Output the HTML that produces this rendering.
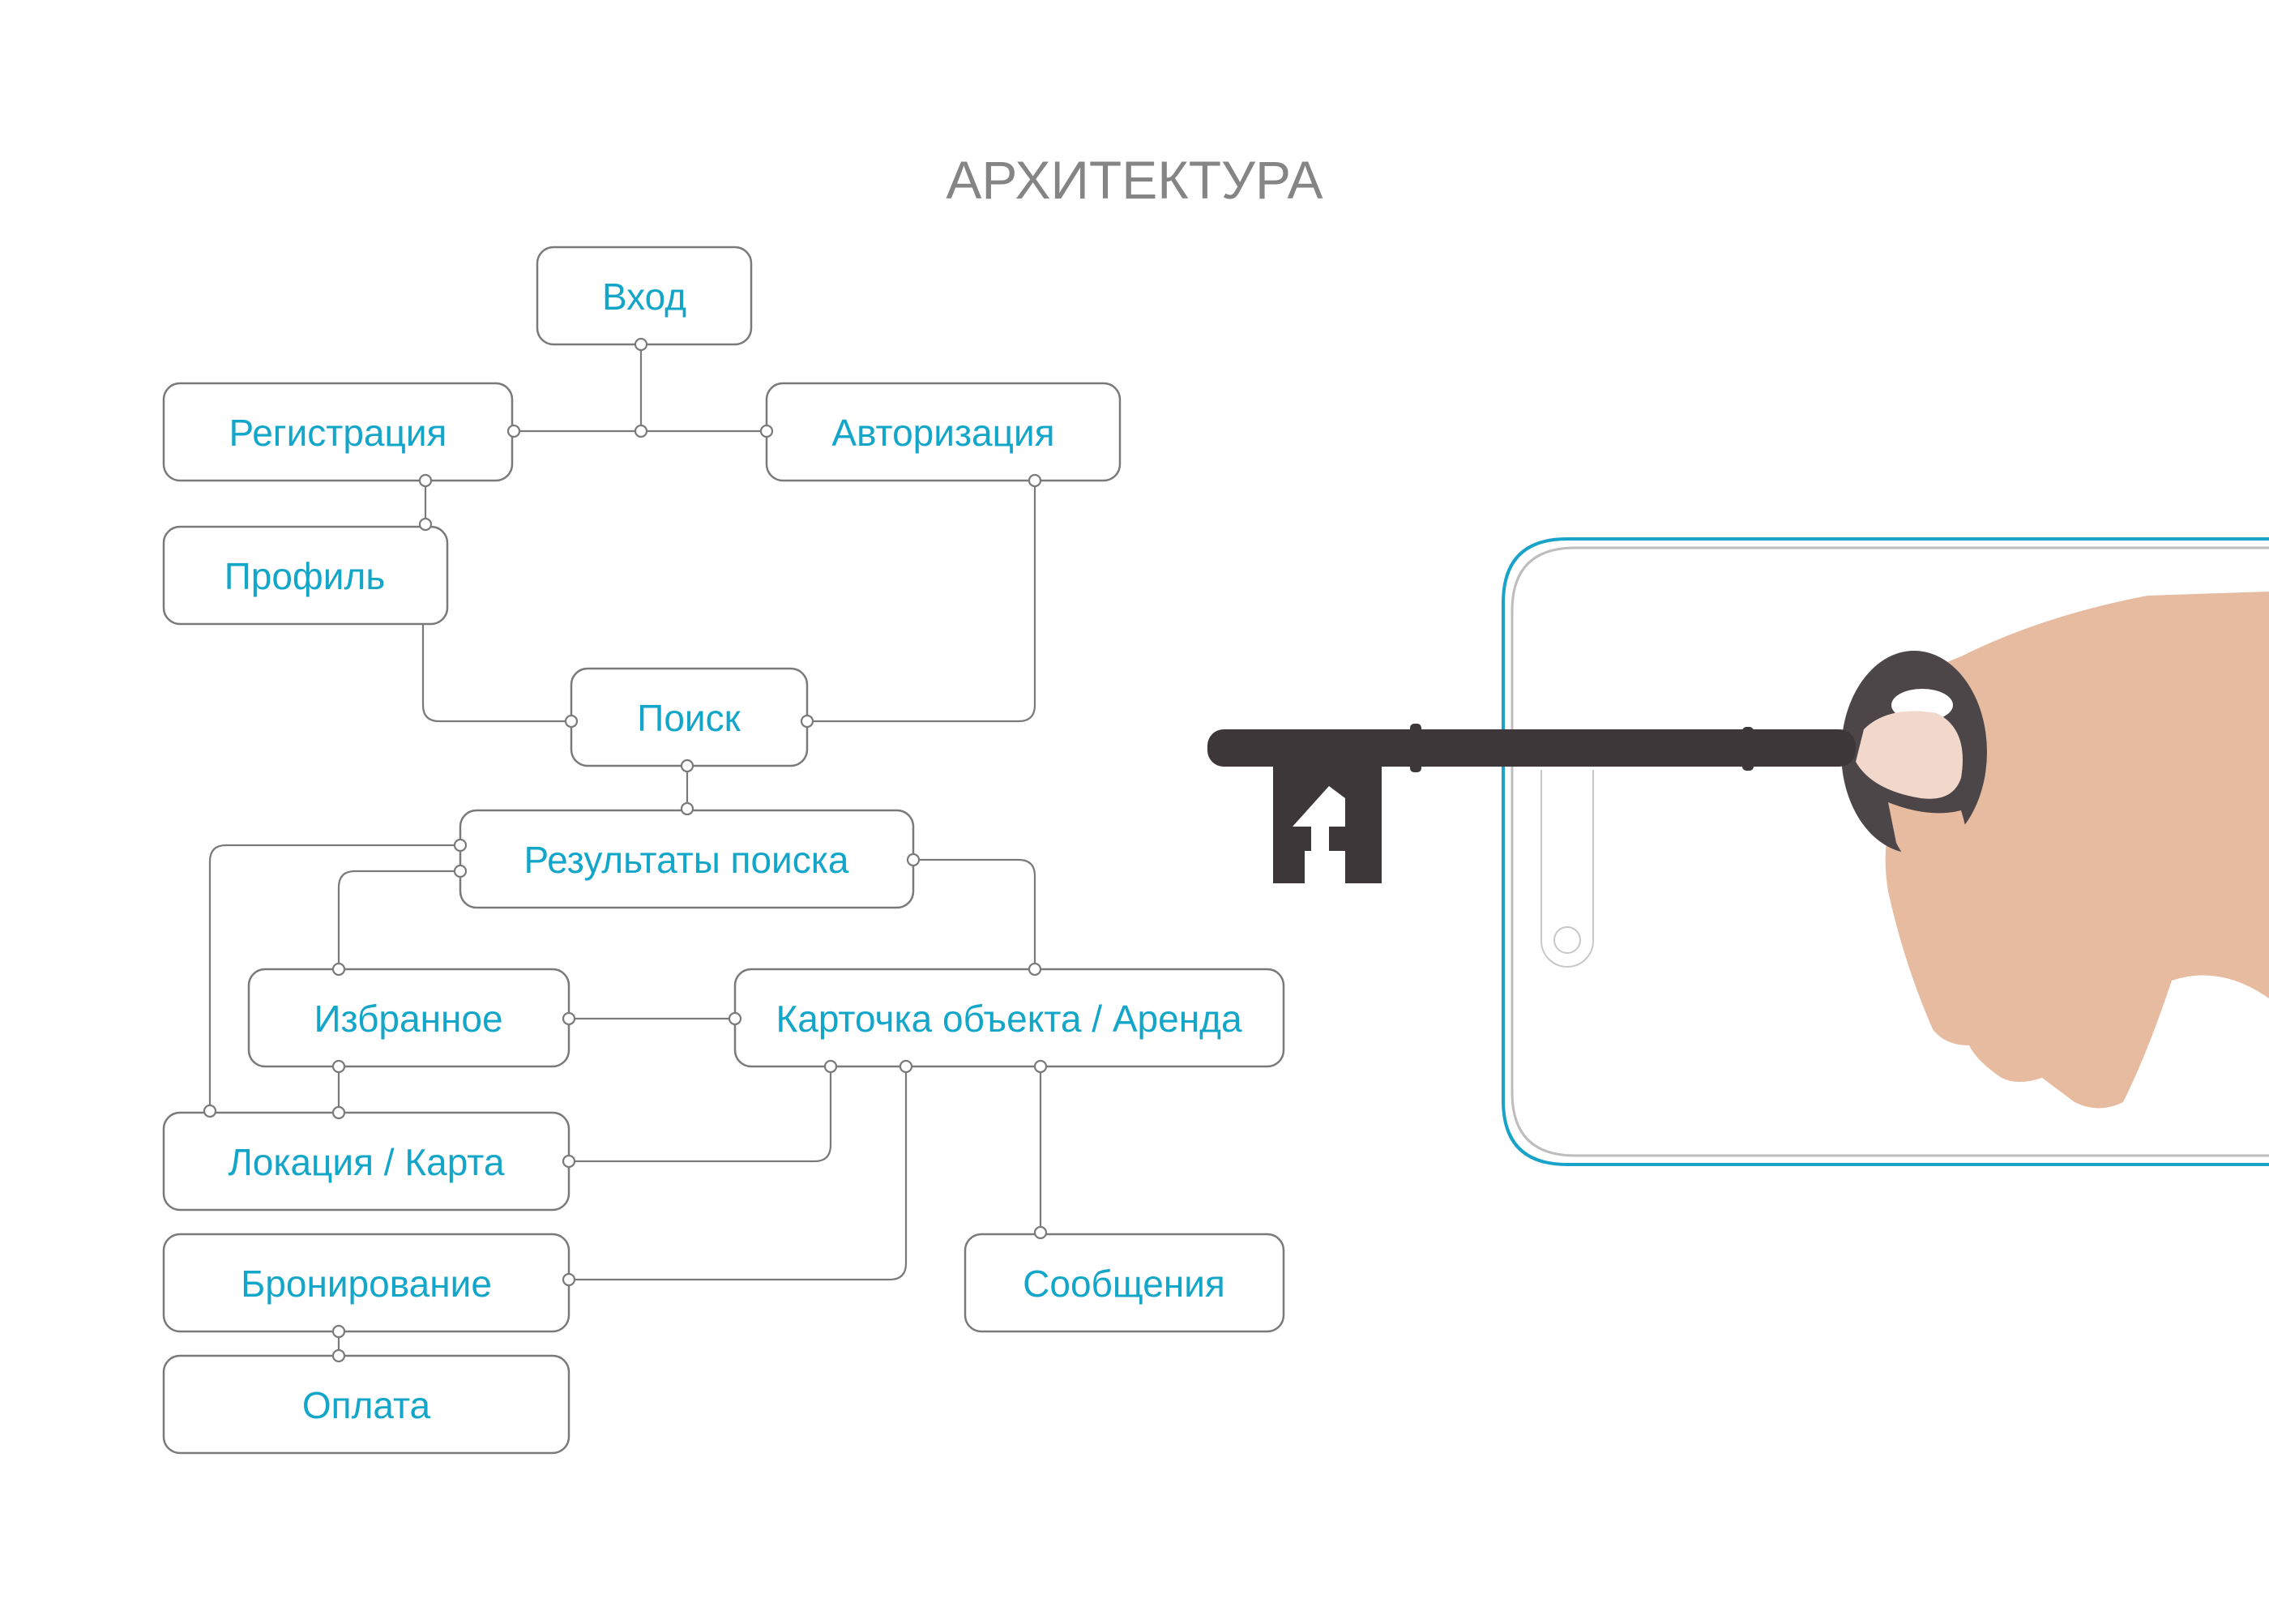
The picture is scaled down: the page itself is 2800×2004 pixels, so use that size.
<!DOCTYPE html>
<html><head><meta charset="utf-8"><style>
html,body{margin:0;padding:0;background:#fff;}
svg{display:block;}
.b{fill:#fff;stroke:#7a7a7a;stroke-width:2.5;}
.l{fill:none;stroke:#7a7a7a;stroke-width:2.2;}
.c{fill:#fff;stroke:#7a7a7a;stroke-width:2.2;}
.t{font-family:"Liberation Sans",sans-serif;font-size:46px;fill:#13a6c9;text-anchor:middle;}
</style></head><body>
<svg width="2800" height="2004" viewBox="0 0 2800 2004" xmlns="http://www.w3.org/2000/svg">
<text x="1400" y="245" font-family="Liberation Sans, sans-serif" font-size="66" fill="#858585" text-anchor="middle">АРХИТЕКТУРА</text>

<path class="l" d="M791 425V532M634 532H946"/>
<path class="l" d="M525 593V647"/>
<path class="l" d="M522 770V870Q522 890 542 890H705"/>
<path class="l" d="M1277 593V870Q1277 890 1257 890H996"/>
<path class="l" d="M848 945V998"/>
<path class="l" d="M568 1043H279Q259 1043 259 1063V1371"/>
<path class="l" d="M568 1075H438Q418 1075 418 1095V1196"/>
<path class="l" d="M1127 1061H1257Q1277 1061 1277 1081V1196"/>
<path class="l" d="M702 1257H907"/>
<path class="l" d="M418 1316V1373"/>
<path class="l" d="M1025 1316V1413Q1025 1433 1005 1433H702"/>
<path class="l" d="M1118 1316V1559Q1118 1579 1098 1579H702"/>
<path class="l" d="M1284 1316V1521"/>
<path class="l" d="M418 1643V1673"/>

<rect class="b" x="663" y="305" width="264" height="120" rx="20"/>
<rect class="b" x="202" y="473" width="430" height="120" rx="20"/>
<rect class="b" x="946" y="473" width="436" height="120" rx="20"/>
<rect class="b" x="202" y="650" width="350" height="120" rx="20"/>
<rect class="b" x="705" y="825" width="291" height="120" rx="20"/>
<rect class="b" x="568" y="1000" width="559" height="120" rx="20"/>
<rect class="b" x="307" y="1196" width="395" height="120" rx="20"/>
<rect class="b" x="907" y="1196" width="677" height="120" rx="20"/>
<rect class="b" x="202" y="1373" width="500" height="120" rx="20"/>
<rect class="b" x="202" y="1523" width="500" height="120" rx="20"/>
<rect class="b" x="1191" y="1523" width="393" height="120" rx="20"/>
<rect class="b" x="202" y="1673" width="500" height="120" rx="20"/>

<g class="c">
<circle cx="791" cy="425" r="7"/><circle cx="791" cy="532" r="7"/><circle cx="634" cy="532" r="7"/><circle cx="946" cy="532" r="7"/>
<circle cx="525" cy="593" r="7"/><circle cx="525" cy="647" r="7"/>
<circle cx="705" cy="890" r="7"/><circle cx="1277" cy="593" r="7"/><circle cx="996" cy="890" r="7"/>
<circle cx="848" cy="945" r="7"/><circle cx="848" cy="998" r="7"/>
<circle cx="568" cy="1043" r="7"/><circle cx="259" cy="1371" r="7"/>
<circle cx="568" cy="1075" r="7"/><circle cx="418" cy="1196" r="7"/>
<circle cx="1127" cy="1061" r="7"/><circle cx="1277" cy="1196" r="7"/>
<circle cx="702" cy="1257" r="7"/><circle cx="907" cy="1257" r="7"/>
<circle cx="418" cy="1316" r="7"/><circle cx="418" cy="1373" r="7"/>
<circle cx="1025" cy="1316" r="7"/><circle cx="702" cy="1433" r="7"/>
<circle cx="1118" cy="1316" r="7"/><circle cx="702" cy="1579" r="7"/>
<circle cx="1284" cy="1316" r="7"/><circle cx="1284" cy="1521" r="7"/>
<circle cx="418" cy="1643" r="7"/><circle cx="418" cy="1673" r="7"/>
</g>

<text class="t" x="795" y="382">Вход</text>
<text class="t" x="417" y="550">Регистрация</text>
<text class="t" x="1164" y="550">Авторизация</text>
<text class="t" x="376" y="727">Профиль</text>
<text class="t" x="850" y="902">Поиск</text>
<text class="t" x="847" y="1077">Результаты поиска</text>
<text class="t" x="504" y="1273">Избранное</text>
<text class="t" x="1245" y="1273">Карточка объекта / Аренда</text>
<text class="t" x="452" y="1450">Локация / Карта</text>
<text class="t" x="452" y="1600">Бронирование</text>
<text class="t" x="1387" y="1600">Сообщения</text>
<text class="t" x="452" y="1750">Оплата</text>

<path d="M2820 665H1934Q1855 665 1855 744V1358Q1855 1437 1934 1437H2820" fill="none" stroke="#1aa3c8" stroke-width="4"/>
<path d="M2820 676H1944Q1866 676 1866 754V1348Q1866 1426 1944 1426H2820" fill="none" stroke="#bdbdbd" stroke-width="3"/>
<path d="M1902 950V1161A31 31 0 0 0 1966 1161V950" fill="none" stroke="#c8c8c8" stroke-width="2"/>
<circle cx="1934" cy="1160" r="16" fill="none" stroke="#c8c8c8" stroke-width="2"/>

<path d="M2290 900 Q2320 850 2420 810 Q2520 760 2650 735 L2800 730 L2800 1232 Q2740 1190 2680 1210 Q2650 1300 2620 1360 Q2590 1375 2560 1360 Q2540 1345 2520 1330 Q2490 1340 2470 1330 Q2440 1310 2430 1290 Q2400 1290 2385 1270 Q2350 1190 2330 1100 Q2320 1040 2340 990 Q2300 980 2285 950 Z" fill="#e7bba0"/>

<ellipse cx="2362" cy="928" rx="90" ry="125" fill="#4d4648"/>
<ellipse cx="2372" cy="870" rx="38" ry="20" fill="#fff"/>
<path d="M2300 900 Q2330 870 2390 880 Q2430 900 2420 960 Q2410 990 2370 985 Q2310 975 2290 940 Z" fill="#f1d8cb"/>
<path d="M2330 990 Q2380 1010 2420 1000 Q2440 1060 2400 1090 Q2360 1080 2340 1040 Z" fill="#e7bba0"/>
<rect x="1490" y="900" width="800" height="46" rx="20" fill="#3e3739"/>
<rect x="1740" y="893" width="14" height="60" rx="5" fill="#3e3739"/>
<rect x="2150" y="897" width="14" height="54" rx="5" fill="#3e3739"/>
<path d="M1571 940H1705V1090H1660V1050H1640V1020H1618V1050H1610V1090H1571Z" fill="#3e3739"/>
<path d="M1595 1020L1640 970L1660 985V1020Z" fill="#fff"/>
</svg>
</body></html>
